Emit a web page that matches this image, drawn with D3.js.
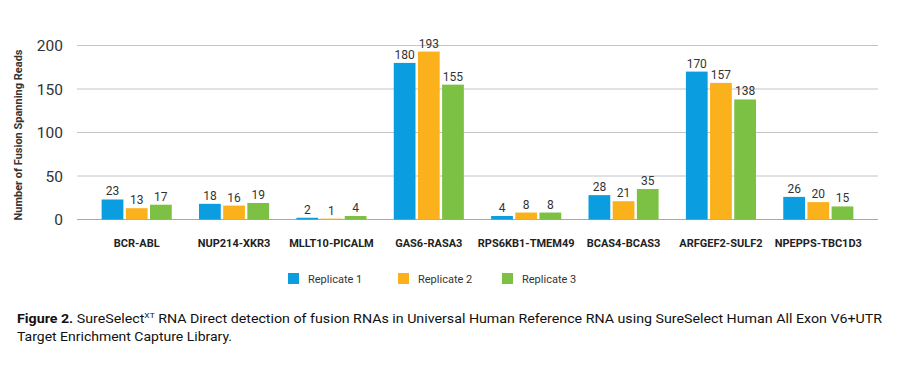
<!DOCTYPE html>
<html><head><meta charset="utf-8">
<script src="https://cdn.jsdelivr.net/npm/d3@7"></script>
<style>body{margin:0;background:#fff}svg{display:block}text{font-family:Roboto,"Noto Sans",sans-serif}</style>
</head><body>
<script>
const categories = ["BCR-ABL","NUP214-XKR3","MLLT10-PICALM","GAS6-RASA3","RPS6KB1-TMEM49","BCAS4-BCAS3","ARFGEF2-SULF2","NPEPPS-TBC1D3"];
const seriesNames = ["Replicate 1","Replicate 2","Replicate 3"];
const replicate1 = [23,18,2,180,4,28,170,26];
const replicate2 = [13,16,1,193,8,21,157,20];
const replicate3 = [17,19,4,155,8,35,138,15];
const yTicks = [0,50,100,150,200];
const colors = ["#0A9DE0","#FBB11B","#7CC143"];
const series = [replicate1, replicate2, replicate3];

const W=907,H=366;
const svg=d3.select("body").append("svg").attr("width",W).attr("height",H);
const x=d3.scaleBand().domain(categories).range([88,867]).paddingInner(0.28).paddingOuter(0.14);
const xs=d3.scaleBand().domain(seriesNames).range([0,x.bandwidth()]).paddingInner(0.1);
const y=d3.scaleLinear().domain([0,200]).range([219.5,45.5]);

const g=svg.append("g");
const yAxis=d3.axisLeft(y).tickValues(yTicks).tickSize(0).tickPadding(0);
g.selectAll("line.grid").data(yTicks).join("line").attr("class","grid")
  .attr("x1",77).attr("x2",878).attr("y1",d=>y(d)).attr("y2",d=>y(d))
  .attr("stroke",d=>d===0?"#a8a8a8":"#c4c4c4").attr("stroke-width",1);
const ya=svg.append("g").attr("transform","translate(63,0)").call(yAxis);
ya.select(".domain").remove();
ya.selectAll("text").attr("font-size",15.5).attr("fill","#333").attr("dy","0.35em").style("font-family","Roboto");

svg.append("text").attr("transform","translate(22,135) rotate(-90)").attr("text-anchor","middle")
  .attr("font-size",11).attr("font-weight","bold").attr("fill","#333").text("Number of Fusion Spanning Reads");

const groups=g.selectAll("g.cat").data(categories).join("g").attr("transform",d=>`translate(${x(d)},0)`);
series.forEach((vals,si)=>{
  groups.append("rect").attr("x",xs(seriesNames[si])).attr("width",xs.bandwidth())
    .attr("y",(d,i)=>y(vals[i])).attr("height",(d,i)=>y(0)-y(vals[i])).attr("fill",colors[si]);
  groups.append("text").attr("x",xs(seriesNames[si])+xs.bandwidth()/2).attr("y",(d,i)=>y(vals[i])-4)
    .attr("text-anchor","middle").attr("font-size",12).attr("fill","#333").text((d,i)=>vals[i]);
});
svg.append("g").selectAll("text").data(categories).join("text")
  .attr("x",d=>x(d)+x.bandwidth()/2).attr("y",247).attr("text-anchor","middle")
  .attr("font-size",11).attr("font-weight","bold").attr("fill","#222").text(d=>d);

const legX=[288,398,502];
const leg=svg.append("g");
seriesNames.forEach((s,i)=>{
  leg.append("rect").attr("x",legX[i]).attr("y",273).attr("width",11).attr("height",11).attr("fill",colors[i]);
  leg.append("text").attr("x",legX[i]+20).attr("y",282.5).attr("font-size",11).attr("fill","#333").text(s);
});

const cap=svg.append("text").attr("x",17).attr("y",323).attr("font-size",13.5).attr("fill","#111")
  .attr("textLength",865).attr("lengthAdjust","spacingAndGlyphs");
cap.append("tspan").attr("font-weight","bold").text("Figure 2.");
cap.append("tspan").text(" SureSelect");
cap.append("tspan").attr("font-size",8).attr("dy",-5).text("XT");
cap.append("tspan").attr("dy",5).text(" RNA Direct detection of fusion RNAs in Universal Human Reference RNA using SureSelect Human All Exon V6+UTR");
svg.append("text").attr("x",17).attr("y",341).attr("font-size",13.5).attr("fill","#111")
  .attr("textLength",215).attr("lengthAdjust","spacingAndGlyphs").text("Target Enrichment Capture Library.");
</script>
</body></html>
